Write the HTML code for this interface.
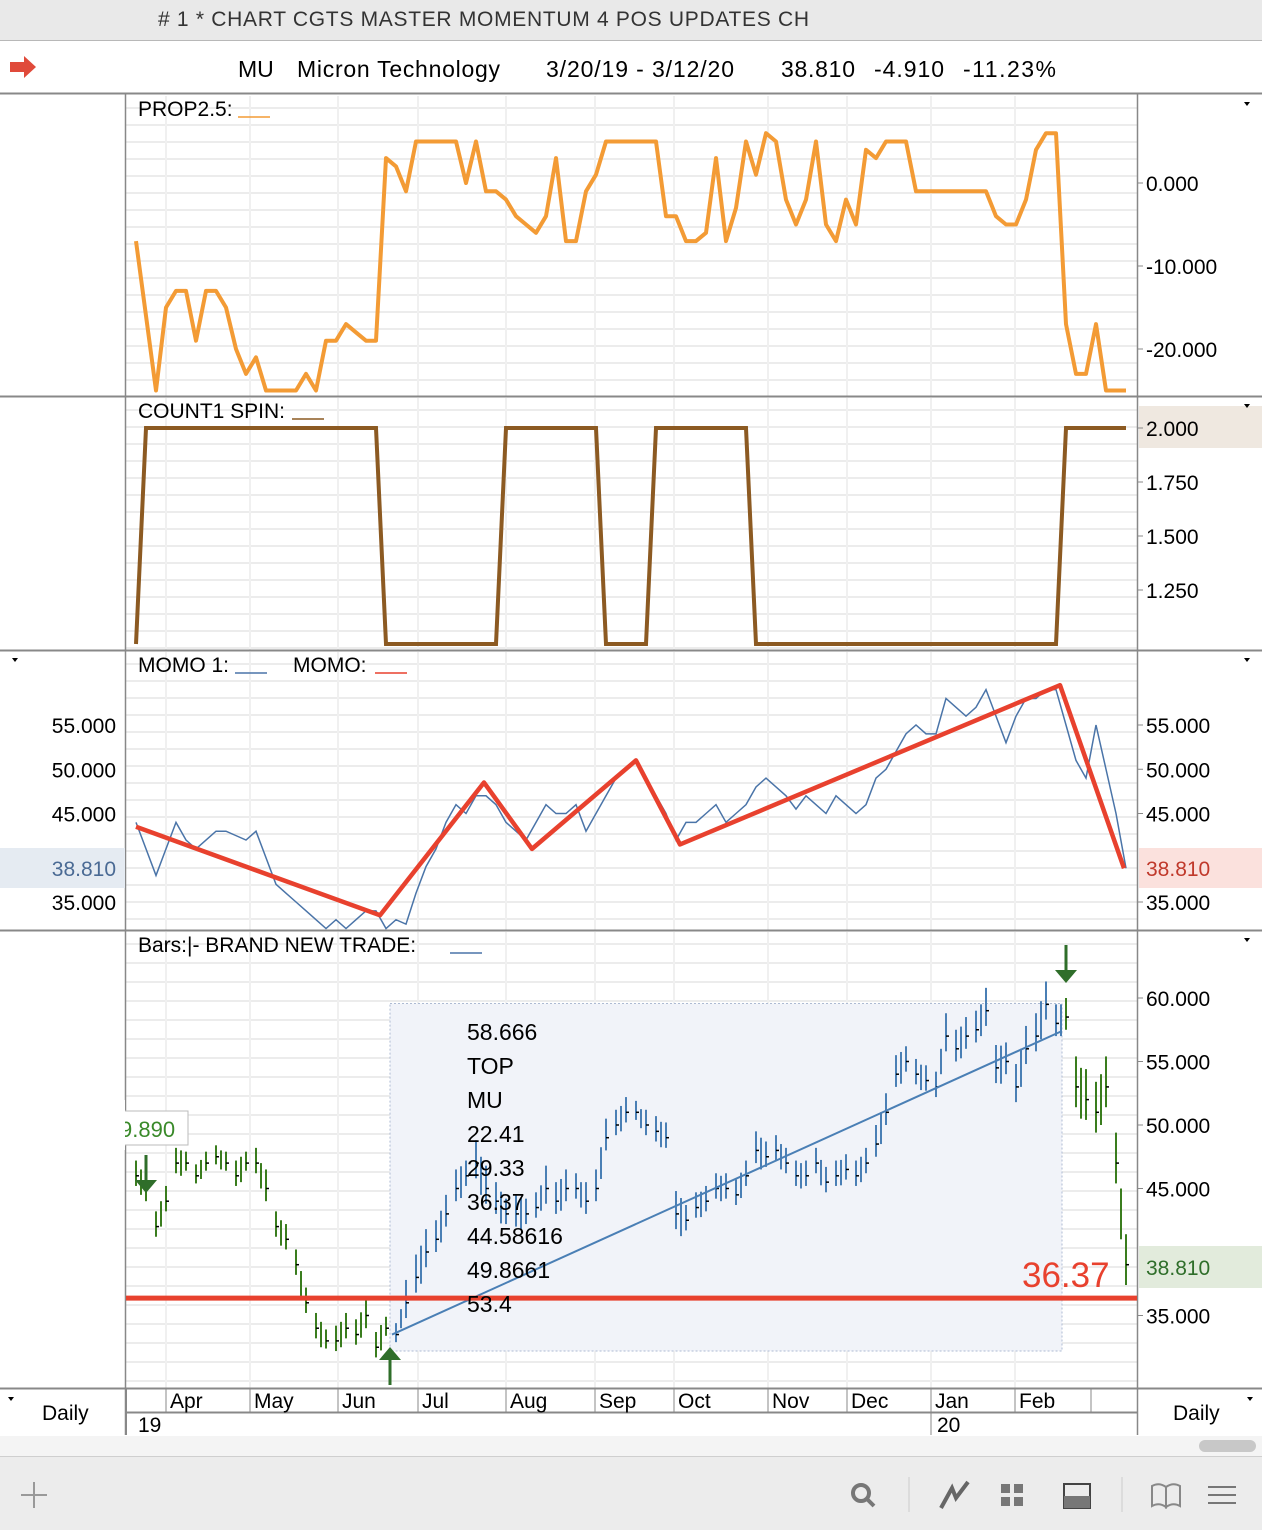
<!DOCTYPE html>
<html><head><meta charset="utf-8">
<style>
body{margin:0;width:1262px;height:1530px;overflow:hidden;background:#fff;font-family:"Liberation Sans",sans-serif;}
svg text{font-family:"Liberation Sans",sans-serif;}
</style></head>
<body>
<svg id="c" width="1262" height="1530" viewBox="0 0 1262 1530" xmlns="http://www.w3.org/2000/svg">
<rect x="0" y="0" width="1262" height="40" fill="#e9e9e9"/>
<line x1="0" y1="40.5" x2="1262" y2="40.5" stroke="#b8b8b8"/>
<text x="158" y="26" font-size="21" fill="#333" textLength="651"># 1 * CHART CGTS MASTER MOMENTUM 4 POS UPDATES CH</text>
<g><polygon points="10,62 24,62 24,56 36,67 24,78 24,72 10,72" fill="#e04a3a"/></g>
<g font-size="23" fill="#000">
<text x="238" y="77">MU</text>
<text x="297" y="77" textLength="203">Micron Technology</text>
<text x="546" y="77" textLength="188">3/20/19 - 3/12/20</text>
<text x="781" y="77" textLength="74">38.810</text>
<text x="874" y="77" textLength="70">-4.910</text>
<text x="963" y="77" textLength="93">-11.23%</text>
</g>
<line x1="0" y1="93.5" x2="1262" y2="93.5" stroke="#888" stroke-width="2"/>
<g id="grid"></g>
<g id="panels"></g>
<g id="marks"></g>
<g id="labels"></g>
<rect x="0" y="1436" width="1262" height="20" fill="#f4f4f4"/>
<rect x="1199" y="1440" width="57" height="12" rx="6" fill="#c8c8c8"/>
<rect x="0" y="1456" width="1262" height="74" fill="#ececec"/>
<line x1="0" y1="1456.5" x2="1262" y2="1456.5" stroke="#cfcfcf"/>
<g stroke="#999" stroke-width="2"><line x1="34" y1="1482" x2="34" y2="1508"/><line x1="21" y1="1495" x2="47" y2="1495"/></g>
<g><circle cx="861" cy="1493" r="8" fill="none" stroke="#777" stroke-width="4"/><line x1="867" y1="1499" x2="874" y2="1506" stroke="#777" stroke-width="4"/></g>
<line x1="909" y1="1477" x2="909" y2="1512" stroke="#ccc"/>
<g><polyline points="941,1508 952,1488 956,1498 968,1482" fill="none" stroke="#666" stroke-width="4"/></g>
<g fill="#777"><rect x="1001" y="1484" width="9" height="9"/><rect x="1014" y="1484" width="9" height="9"/><rect x="1001" y="1497" width="9" height="9"/><rect x="1014" y="1497" width="9" height="9"/></g>
<g><rect x="1064" y="1484" width="26" height="24" fill="none" stroke="#444" stroke-width="2"/><rect x="1064" y="1496" width="26" height="12" fill="#777"/></g>
<line x1="1122" y1="1477" x2="1122" y2="1512" stroke="#ccc"/>
<g fill="none" stroke="#888" stroke-width="2"><path d="M1152 1486 Q1159 1482 1166 1487 L1166 1507 Q1159 1502 1152 1506 Z"/><path d="M1180 1486 Q1173 1482 1166 1487 L1166 1507 Q1173 1502 1180 1506 Z"/></g>
<g stroke="#777" stroke-width="2"><line x1="1208" y1="1487" x2="1236" y2="1487"/><line x1="1208" y1="1495" x2="1236" y2="1495"/><line x1="1208" y1="1503" x2="1236" y2="1503"/></g>
</svg>
<script>
const propVals=[-7,-16,-25,-15,-13,-13,-19,-13,-13,-15,-20,-23,-21,-25,-25,-25,-25,-23,-25,-19,-19,-17,-18,-19,-19,3,2,-1,5,5,5,5,5,0,5,-1,-1,-2,-4,-5,-6,-4,3,-7,-7,-1,1,5,5,5,5,5,5,-4,-4,-7,-7,-6,3,-7,-3,5,1,6,5,-2,-5,-2,5,-5,-7,-2,-5,4,3,5,5,5,-1,-1,-1,-1,-1,-1,-1,-1,-4,-5,-5,-2,4,6,6,-17,-23,-23,-17,-25,-25,-25];
const countVals=[1,2,2,2,2,2,2,2,2,2,2,2,2,2,2,2,2,2,2,2,2,2,2,2,2,1,1,1,1,1,1,1,1,1,1,1,1,2,2,2,2,2,2,2,2,2,2,1,1,1,1,1,2,2,2,2,2,2,2,2,2,2,1,1,1,1,1,1,1,1,1,1,1,1,1,1,1,1,1,1,1,1,1,1,1,1,1,1,1,1,1,1,1,2,2,2,2,2,2,2];
const momo1Vals=[44,41,38,41,44,42,41,42,43,43,42.5,42,43,40,37,36,35,34,33,32,33,32,33,34,34,32,33,32.5,36,39,41,44,46,45,47,47,46,44,43,42,44,46,45,45,46,43,45,47,49,50,51,49,47,45,42,44,44,45,46,44,45,46,48,49,48,47,45.5,47,46,45,47,46,45,46,49,50,52,54,55,54,54,58,57,56,57,59,56,53,56,58,58,59,59,55,51,49,55,50,45,38.81];
const momoIdx=[0,24.4,34.8,39.6,50,54.4,92.4,98.8];
const momoVals=[43.5,33.5,48.5,41,51,41.5,59.5,38.81];
const closes=[46,45,42,44,47,47,46,47,47.5,47,46,47,47,45,42,41,39,36,34,33,33,34,33.5,35,32.5,34,33.5,36,38,40,41,43,45,46,47,45,44,43,43,43,43.5,45,44,45,45,44,45,49,50,51,51,50,49.5,49,43,42.5,43.5,44,45,45,44.5,46,48,47.5,48,47,46,46,47,45.5,46,46.5,46,47,48.5,51,54,55,54,53.5,53,57,56,57,57.5,59,54.5,55,53,56,57,59.5,58,58.5,53,52,51,53,47,39];
const ranges=[2,2.5,2,2,2,1.5,1.5,1.5,1.5,1.5,2,1.5,2,2.5,2,2,2,2,2,1.5,2,2,2,2.5,2,1.5,1.5,3,3,3,2.5,2.5,2.5,2,3,3,2.5,2,2.5,2,2,3,2.5,2.5,2,2.5,2.5,2.5,2,2,1.5,2,2,2,3,2,2,2,2,2,2,2,2.5,2,2,2,2,2,2,2,2,2,2,2,2.5,2.5,2.5,2,2,2,2,3,2.5,2.5,2.5,3,3,2.5,3,3,3,3,2.5,2.5,4,4,4,4,4,4];
const priceTicks=[60,55,50,45,35];
const propTicks=[0,-10,-20];
const countTicks=[2,1.75,1.5,1.25];
const momoTicks=[55,50,45,35];
const months=["Apr","May","Jun","Jul","Aug","Sep","Oct","Nov","Dec","Jan","Feb"];
const monthIdx=[3.2,11.6,20.4,28.4,37.2,46.1,54,63.4,71.3,79.7,88.1];
const trade={startIdx:25.4,endIdx:92.6,top:58.666,stop:36.37,last:38.81};
const notes=["58.666","TOP","MU","22.41","29.33","36.37","44.58616","49.8661","53.4"];

const NS="http://www.w3.org/2000/svg";
function el(tag,attrs,parent,txt){const e=document.createElementNS(NS,tag);for(const k in attrs)e.setAttribute(k,attrs[k]);if(txt!==undefined)e.textContent=txt;parent.appendChild(e);return e;}
const X=i=>136+i*10;
const yProp=v=>183-v*8.3;
const yCount=v=>644-(v-1)*216;
const yMomo=v=>725-(v-55)*8.85;
const yPrice=v=>998-(v-60)*12.7;
const G=document.getElementById('grid'),P=document.getElementById('panels'),M=document.getElementById('marks'),L=document.getElementById('labels');
const L0=126,R0=1137;
const panels=[[96,396],[398,650],[652,930],[932,1388]];
panels.forEach(([t,b],pi)=>{
  for(let y=t+12;y<b;y+=(pi==3?19:17)){el('line',{x1:L0,x2:R0,y1:y,y2:y,stroke:'#ececec','stroke-width':2},G);}
  monthIdx.forEach(m=>{el('line',{x1:X(m)-2,x2:X(m)-2,y1:t,y2:b,stroke:'#f0f0f0','stroke-width':2},G);});
});
[396,650,930,1388].forEach(y=>el('line',{x1:0,x2:1262,y1:y+0.5,y2:y+0.5,stroke:'#888','stroke-width':2},P));
el('line',{x1:L0-0.5,x2:L0-0.5,y1:94,y2:1435,stroke:'#888','stroke-width':1.5},P);
el('line',{x1:R0+0.5,x2:R0+0.5,y1:94,y2:1435,stroke:'#888','stroke-width':1.5},P);
let pts=propVals.map((v,i)=>X(i)+','+yProp(v)).join(' ');
let e=el('polyline',{points:pts,fill:'none',stroke:'#f39b35','stroke-width':4,'stroke-linejoin':'round'},M);


pts=countVals.map((v,i)=>X(i)+','+yCount(v)).join(' ');
e=el('polyline',{points:pts,fill:'none',stroke:'#8c5a22','stroke-width':4},M);


pts=momo1Vals.map((v,i)=>X(i)+','+yMomo(v)).join(' ');
e=el('polyline',{points:pts,fill:'none',stroke:'#4a74a8','stroke-width':1.5},M);


pts=momoIdx.map((d,i)=>X(d)+','+yMomo(momoVals[i])).join(' ');
e=el('polyline',{points:pts,fill:'none',stroke:'#e8412e','stroke-width':4.5,'stroke-linejoin':'round'},M);


const tx0=X(trade.startIdx),tx1=X(trade.endIdx);
e=el('rect',{x:tx0,y:yPrice(trade.top+0.9),width:tx1-tx0,height:yPrice(32.2)-yPrice(trade.top+0.9),fill:'#f1f3f9',stroke:'#aebbd3','stroke-dasharray':'2,2'},M);


closes.forEach((c,i)=>{
  const col=(i>=trade.startIdx&&i<=trade.endIdx)?'#4a7fb5':'#3a7d1e';
  const x=X(i),r=ranges[i];
  const b=el('line',{x1:x,x2:x,y1:yPrice(c+r*0.6),y2:yPrice(c-r*0.4),stroke:col,'stroke-width':2},M);
  
  
  el('line',{x1:x,x2:x+3,y1:yPrice(c),y2:yPrice(c),stroke:'#000','stroke-width':1.5},M);
  if(i%2==0&&i<99){const x2=x+5,c2=(c+closes[i+1])/2;el('line',{x1:x2,x2:x2,y1:yPrice(c2+r*0.5),y2:yPrice(c2-r*0.5),stroke:col,'stroke-width':2},M);}
});
e=el('line',{x1:tx0+2,y1:yPrice(closes[26]),x2:tx1,y2:yPrice(closes[92]-0.6),stroke:'#4a7fb5','stroke-width':2},M);


e=el('line',{x1:L0,x2:R0,y1:yPrice(trade.stop),y2:yPrice(trade.stop),stroke:'#e8412e','stroke-width':5},M);


notes.forEach((n,i)=>{const t=el('text',{x:467,y:1040+i*34,'font-size':23,fill:'#000'},L,n);

});
e=el('text',{x:1022,y:1287,'font-size':35,fill:'#e8412e'},L,trade.stop.toFixed(2));


function arrow(x,yTip,dir){const s=dir;el('line',{x1:x,x2:x,y1:yTip-s*38,y2:yTip-s*8,stroke:'#2f6e2a','stroke-width':3},M);el('polygon',{points:`${x-11},${yTip-s*13} ${x+11},${yTip-s*13} ${x},${yTip}`,fill:'#2f6e2a'},M);}
arrow(146,1193,1);arrow(390,1347,-1);arrow(1066,983,1);
el('rect',{x:118,y:1111,width:70,height:34,fill:'#fff',stroke:'#bbb'},L);
e=el('text',{x:120,y:1137,'font-size':22,fill:'#3a8a2a'},L,'9.890');


el('rect',{x:0,y:1100,width:125,height:50,fill:'#fff'},L);
[[138,116,'PROP2.5:'],[138,418,'COUNT1 SPIN:'],[138,672,'MOMO 1:'],[293,672,'MOMO:'],[138,952,'Bars:|-   BRAND NEW TRADE:']].forEach(a=>{el('text',{x:a[0],y:a[1],'font-size':21,fill:'#000','xml:space':'preserve'},L,a[2]);});
[[238,116,'#f39b35'],[292,418,'#8c5a22'],[235,672,'#4a74a8'],[375,672,'#e8412e'],[450,952,'#4a74a8']].forEach(a=>el('line',{x1:a[0],x2:a[0]+32,y1:a[1]+1,y2:a[1]+1,stroke:a[2],'stroke-width':1.5},L));
function rtick(y,txt){el('line',{x1:R0,x2:R0+6,y1:y,y2:y,stroke:'#888'},L);const t=el('text',{x:1146,y:y+8,'font-size':21,fill:'#000'},L,txt);}
propTicks.forEach(v=>rtick(yProp(v),v.toFixed(3)));
el('rect',{x:1139,y:406,width:123,height:42,fill:'#efe8e0'},L);
countTicks.forEach(v=>rtick(yCount(v),v.toFixed(3)));
momoTicks.forEach(v=>{rtick(yMomo(v),v.toFixed(3));el('text',{x:116,y:yMomo(v)+8,'font-size':21,'text-anchor':'end',fill:'#000'},L,v.toFixed(3));});
el('rect',{x:1139,y:848,width:123,height:40,fill:'#fbe1dd'},L);
el('text',{x:1146,y:876,'font-size':21,fill:'#c0392b'},L,trade.last.toFixed(3));
el('rect',{x:0,y:848,width:125,height:40,fill:'#e5ebf2'},L);
el('text',{x:116,y:876,'font-size':21,'text-anchor':'end',fill:'#4a6a94'},L,trade.last.toFixed(3));
priceTicks.forEach(v=>rtick(yPrice(v),v.toFixed(3)));
el('rect',{x:1139,y:1246,width:123,height:42,fill:'#e2ebdc'},L);
el('text',{x:1146,y:1275,'font-size':21,fill:'#2f6e2a'},L,trade.last.toFixed(3));
[[1247,104],[1247,406],[1247,660],[15,660],[1247,940],[11,1399],[1250,1399]].forEach(p=>el('polygon',{points:`${p[0]-3},${p[1]-2} ${p[0]+3},${p[1]-2} ${p[0]},${p[1]+2}`,fill:'#000'},L));
el('line',{x1:L0,x2:R0,y1:1412.5,y2:1412.5,stroke:'#888','stroke-width':2},L);
el('line',{x1:L0,x2:L0,y1:1388,y2:1435,stroke:'#888','stroke-width':2},L);
months.forEach((m,i)=>{const x=X(monthIdx[i])-2;el('line',{x1:x,x2:x,y1:1388,y2:1412,stroke:'#888'},L);const t=el('text',{x:x+4,y:1408,'font-size':21,fill:'#000'},L,m);});
el('line',{x1:1091,x2:1091,y1:1388,y2:1412,stroke:'#888'},L);
el('line',{x1:X(monthIdx[9])-2,x2:X(monthIdx[9])-2,y1:1412,y2:1435,stroke:'#888'},L);
el('text',{x:138,y:1432,'font-size':21,fill:'#000'},L,'19');
el('text',{x:937,y:1432,'font-size':21,fill:'#000'},L,'20');
el('text',{x:42,y:1420,'font-size':21,fill:'#000'},L,'Daily');
el('text',{x:1173,y:1420,'font-size':21,fill:'#000'},L,'Daily');
</script>
</body></html>
